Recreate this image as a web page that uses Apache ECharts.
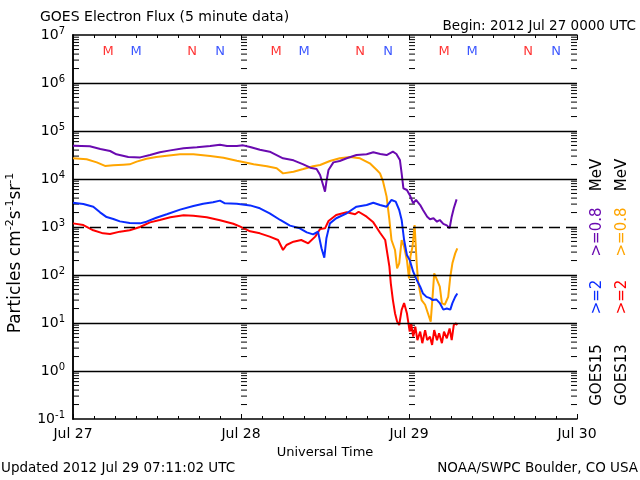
<!DOCTYPE html>
<html><head><meta charset="utf-8">
<script src="https://cdn.jsdelivr.net/npm/echarts@6/dist/echarts.min.js"></script>
<style>html,body{margin:0;padding:0;background:#fff}#c{width:640px;height:480px}</style>
</head><body><div id="c"></div>
<script>
// ---- data: [hours since 2012 Jul 27 00:00 UTC, flux] ----
const xTickLabels = ['Jul 27', 'Jul 28', 'Jul 29', 'Jul 30'];
const goes15_08 = [[0,49400],[2.4,48000],[3.9,42200],[5.3,38300],[6.2,32700],[7.9,28700],[9.6,28200],[11,31600],[12.4,36000],[13.9,39500],[15.8,43600],[17.7,45700],[19.6,48800],[21,51900],[22,48800],[23.4,48800],[24.3,50200],[25.3,46500],[26.7,40800],[28.1,37100],[30.0,27000],[31.5,24500],[32.9,20200],[33.9,17200],[34.8,16100],[35.3,12100],[35.8,6900],[36.0,5450],[36.2,8800],[36.5,15400],[37.2,22200],[38.1,23700],[39.1,27000],[40.5,31600],[41.95,32700],[42.9,36000],[43.9,33200],[44.8,31600],[45.7,37100],[46.2,33200],[46.7,24900],[46.95,13100],[47.2,6400],[47.7,5900],[48.1,4650],[48.6,3110],[49.0,3660],[49.6,2870],[50.0,2260],[50.6,1640],[51.0,1450],[51.5,1520],[52.0,1290],[52.4,1400],[52.9,1160],[53.4,1080],[53.8,940],[54.1,1640],[54.4,2450],[54.8,3770]];
const goes13_08 = [[0,27000],[1.95,25700],[3.4,22200],[4.57,18700],[5.76,19300],[7.2,19900],[8.1,20200],[9.1,23000],[10.5,26500],[11.9,28700],[13.4,30600],[15.3,32700],[17.2,32700],[19.6,30100],[21.5,27800],[23.4,24000],[24.8,21900],[25.8,20200],[27.7,18400],[29.1,16700],[30.0,13100],[31.5,14200],[32.9,16100],[34.3,18400],[35.3,19600],[36.7,23700],[38.1,27000],[39.6,28700],[41.0,27000],[42.4,21200],[43.4,15400],[43.86,13100],[44.3,8800],[44.8,4290],[45.2,1400],[45.5,536],[46.0,332],[46.3,138],[46.6,175],[46.95,536],[47.3,389],[47.7,206],[48.0,85],[48.2,241],[48.5,389],[48.8,1100],[49.1,175],[49.3,73],[49.8,30],[50.3,24],[50.7,16],[51.1,10.7],[51.4,41],[51.6,108],[52.0,79],[52.4,57],[52.7,26],[53.1,24],[53.6,35],[53.9,92],[54.2,175],[54.6,282],[54.9,360]];
const goes15_2 = [[0,3210],[1.48,3010],[2.9,2650],[3.86,2020],[4.8,1610],[5.76,1470],[6.7,1310],[8.1,1210],[9.57,1190],[10.5,1290],[11.9,1560],[13.4,1840],[15.3,2300],[17.2,2740],[18.6,3060],[20,3270],[21,3540],[21.7,3110],[23.4,3060],[25.3,2820],[26.7,2450],[28.1,1930],[29.6,1400],[31.0,1070],[32.4,940],[33.4,774],[34.3,703],[35.0,800],[35.5,360],[35.9,230],[36.2,581],[36.7,1190],[37.6,1520],[39.1,1930],[40.5,2650],[41.95,2870],[42.9,3210],[43.86,2870],[44.8,2650],[45.5,3660],[46.1,3370],[46.6,2260],[46.95,1400],[47.3,536],[47.7,261],[48.1,206],[48.6,117],[49.1,79],[49.6,57],[50.0,41],[50.5,35],[51.0,33],[51.4,30],[51.9,31],[52.4,26],[52.9,19],[53.4,20],[53.9,19],[54.2,26],[54.6,35],[54.9,41]];
const goes13_2 = [[0,1190],[1.48,1100],[2.9,853],[4.3,738],[5.29,714],[6.7,800],[8.1,853],[9.57,1000],[11,1250],[12.4,1400],[13.9,1590],[15.8,1750],[17.2,1720],[19.1,1590],[21,1380],[22.9,1170],[23.9,1020],[25.3,813],[26.7,738],[28.1,630],[29.3,536],[30.0,332],[30.5,422],[31.5,494],[32.6,536],[33.6,457],[34.6,630],[35.3,908],[36.0,938],[36.5,1330],[37.6,1780],[39.1,2020],[40.3,1840],[40.8,2080],[41.95,1640],[42.9,1250],[43.86,760],[44.6,536],[44.9,282],[45.2,149],[45.4,67],[45.7,30],[46.0,16],[46.3,10.7],[46.6,9.1],[46.95,18.7],[47.3,26],[47.7,16],[48.1,6.6],[48.3,9.8],[48.6,5.2],[48.9,8.4],[49.2,4.4],[49.6,6.6],[49.9,3.8],[50.3,7.1],[50.6,4.4],[51.0,5.2],[51.3,3.5],[51.6,7.1],[52.0,4.4],[52.3,6.1],[52.7,3.8],[53.0,6.6],[53.4,4.8],[53.8,7.7],[54.1,4.4],[54.4,9.1],[54.7,9.8],[54.9,9.1]];
// local midnight (M) / noon (N) markers: [hour, letter, satellite]
const markerHours = [[5,'M','13'],[9,'M','15'],[17,'N','13'],[21,'N','15'],[29,'M','13'],[33,'M','15'],[41,'N','13'],[45,'N','15'],[53,'M','13'],[57,'M','15'],[65,'N','13'],[69,'N','15']];
const decadeLines = [1e0, 1e1, 1e2, 1e3, 1e4, 1e5, 1e6];
const minorMultipliers = [2,3,4,5,6,7,8,9];
const minorDecades = [0.1,1,10,100,1e3,1e4,1e5,1e6];

// ---- styles ----
const FONT = '"DejaVu Sans", sans-serif';
const C_PURPLE = '#6a0ab0', C_ORANGE = '#ffa500', C_BLUE = '#0a2cff', C_RED = '#ff0000';
const satColor = {'13': C_RED, '15': C_BLUE};

const minorTickData = [];
minorDecades.forEach(d => minorMultipliers.forEach(m => minorTickData.push([0, m * d])));

const chart = echarts.init(document.getElementById('c'), null, {renderer: 'canvas'});
const lineS = (name, data, color) => ({
  type: 'line', name, data, showSymbol: false, symbol: 'none', animation: false,
  lineStyle: {color, width: 2}, itemStyle: {color}, z: 3
});
const axisLineStyle = {lineStyle: {color: '#000', width: 1.5}};

chart.setOption({
  animation: false,
  backgroundColor: '#fff',
  textStyle: {fontFamily: FONT},
  grid: {left: 73, top: 35, width: 504, height: 384},
  xAxis: [{
    type: 'value', position: 'bottom', min: 0, max: 72, interval: 24,
    axisLine: axisLineStyle,
    axisTick: {show: true, inside: true, length: 5, lineStyle: {color: '#000', width: 1}},
    minorTick: {show: true, splitNumber: 8, length: 3, lineStyle: {color: '#000', width: 1}},
    splitLine: {show: false}, minorSplitLine: {show: false},
    axisLabel: {color: '#000', fontSize: 14, fontFamily: FONT, margin: 8, formatter: v => xTickLabels[Math.round(v / 24)]},
    name: 'Universal Time', nameLocation: 'middle', nameGap: 26,
    nameTextStyle: {color: '#000', fontSize: 13, fontFamily: FONT}
  }, {
    type: 'value', position: 'top', min: 0, max: 72, interval: 24,
    axisLine: axisLineStyle,
    axisTick: {show: true, inside: true, length: 5, lineStyle: {color: '#000', width: 1}},
    minorTick: {show: true, splitNumber: 8, length: 3, lineStyle: {color: '#000', width: 1}},
    splitLine: {show: false}, axisLabel: {show: false}
  }],
  yAxis: [{
    type: 'log', logBase: 10, min: 0.1, max: 1e7, position: 'left',
    axisLine: axisLineStyle, axisTick: {show: false}, splitLine: {show: false},
    axisLabel: {
      margin: 8, color: '#000',
      formatter: v => '{b|10}{s|' + Math.round(Math.log10(v)) + '}',
      rich: {b: {fontSize: 14, fontFamily: FONT, color: '#000', lineHeight: 18},
             s: {fontSize: 10, fontFamily: FONT, color: '#000', verticalAlign: 'top', lineHeight: 10}}
    }
  }, {
    type: 'log', logBase: 10, min: 0.1, max: 1e7, position: 'right',
    axisLine: axisLineStyle, axisTick: {show: false}, splitLine: {show: false}, axisLabel: {show: false}
  }],
  series: [
    {
      type: 'custom', name: 'ticks', data: minorTickData, silent: true, z: 1,
      encode: {x: 0, y: 1},
      renderItem: (params, api) => {
        const v = api.value(1);
        const y = api.coord([0, v])[1];
        const xs = [0, 24, 48].map(h => api.coord([h, v])[0]);
        const xr = api.coord([72, v])[0];
        const st = {stroke: '#000', lineWidth: 1};
        const children = xs.map(x => ({type: 'line', shape: {x1: x, y1: y, x2: x + 6, y2: y}, style: st}));
        children.push({type: 'line', shape: {x1: xr - 6, y1: y, x2: xr, y2: y}, style: st});
        return {type: 'group', children};
      },
      markLine: {
        silent: true, symbol: 'none', label: {show: false}, animation: false,
        data: decadeLines.map(v => ({yAxis: v, lineStyle: {color: '#000', width: 1.3, type: v === 1e3 ? [11, 6] : 'solid'}}))
      }
    },
    lineS('GOES13 >=0.8 MeV', goes13_08, C_ORANGE),
    lineS('GOES13 >=2 MeV', goes13_2, C_RED),
    lineS('GOES15 >=2 MeV', goes15_2, C_BLUE),
    lineS('GOES15 >=0.8 MeV', goes15_08, C_PURPLE),
    {
      type: 'scatter', name: 'markers', symbolSize: 1, itemStyle: {color: 'rgba(0,0,0,0)'}, silent: true, z: 4,
      data: markerHours.map(m => ({value: [m[0], 4.6e6], name: m[1],
        label: {show: true, position: 'inside', formatter: m[1], color: satColor[m[2]], fontSize: 13, fontFamily: FONT}}))
    }
  ],
  graphic: [
    {type: 'text', left: 40, top: 10, style: {text: 'GOES Electron Flux (5 minute data)', fill: '#000', font: '14px ' + FONT}},
    {type: 'text', right: 4, top: 19, style: {text: 'Begin: 2012 Jul 27 0000 UTC', fill: '#000', font: '13.5px ' + FONT}},
    {type: 'text', left: 1, top: 461, style: {text: 'Updated 2012 Jul 29 07:11:02 UTC', fill: '#000', font: '13.5px ' + FONT}},
    {type: 'text', right: 2, top: 461, style: {text: 'NOAA/SWPC Boulder, CO USA', fill: '#000', font: '13.5px ' + FONT}},
    {type: 'text', x: 16, y: 253, rotation: Math.PI / 2,
     style: {text: '{n|Particles cm}{s|-2}{n|s}{s|-1}{n|sr}{s|-1}', align: 'center', verticalAlign: 'middle',
       rich: {n: {fontSize: 17, fontFamily: FONT, fill: '#000', lineHeight: 22}, s: {fontSize: 11, fontFamily: FONT, fill: '#000', verticalAlign: 'top', lineHeight: 11}}}},
    {type: 'text', x: 597, y: 375, rotation: Math.PI / 2, style: {text: 'GOES15', fill: '#000', font: '15px ' + FONT, align: 'center', verticalAlign: 'middle'}},
    {type: 'text', x: 597, y: 297, rotation: Math.PI / 2, style: {text: '>=2', fill: C_BLUE, font: '15px ' + FONT, align: 'center', verticalAlign: 'middle'}},
    {type: 'text', x: 597, y: 232, rotation: Math.PI / 2, style: {text: '>=0.8', fill: C_PURPLE, font: '15px ' + FONT, align: 'center', verticalAlign: 'middle'}},
    {type: 'text', x: 597, y: 175, rotation: Math.PI / 2, style: {text: 'MeV', fill: '#000', font: '15px ' + FONT, align: 'center', verticalAlign: 'middle'}},
    {type: 'text', x: 622, y: 375, rotation: Math.PI / 2, style: {text: 'GOES13', fill: '#000', font: '15px ' + FONT, align: 'center', verticalAlign: 'middle'}},
    {type: 'text', x: 622, y: 297, rotation: Math.PI / 2, style: {text: '>=2', fill: C_RED, font: '15px ' + FONT, align: 'center', verticalAlign: 'middle'}},
    {type: 'text', x: 622, y: 232, rotation: Math.PI / 2, style: {text: '>=0.8', fill: C_ORANGE, font: '15px ' + FONT, align: 'center', verticalAlign: 'middle'}},
    {type: 'text', x: 622, y: 175, rotation: Math.PI / 2, style: {text: 'MeV', fill: '#000', font: '15px ' + FONT, align: 'center', verticalAlign: 'middle'}}
  ]
});
</script></body></html>
